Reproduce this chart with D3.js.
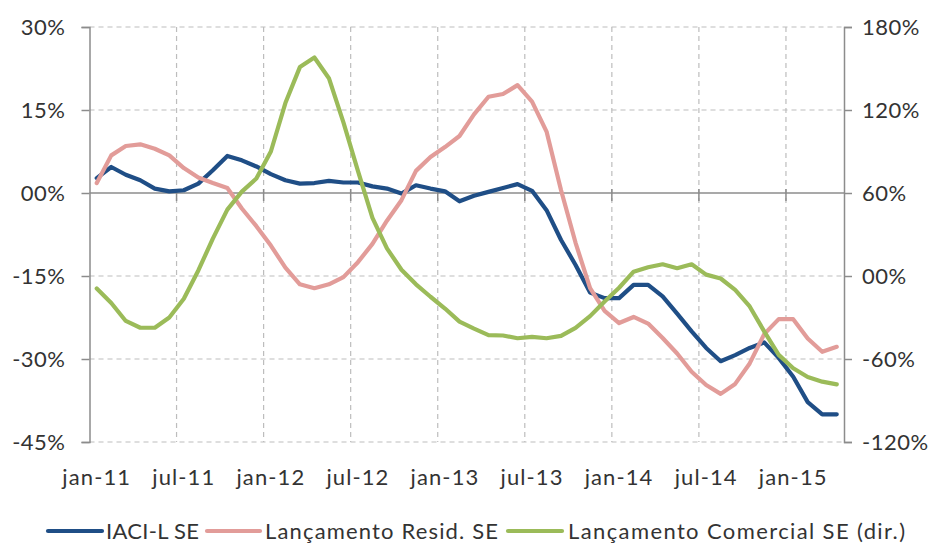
<!DOCTYPE html>
<html>
<head>
<meta charset="utf-8">
<script src="https://cdn.jsdelivr.net/npm/d3@7"></script>
<style>
  html, body { margin: 0; padding: 0; background: #fff; }
  svg { display: block; font-family: Lato, "Open Sans", sans-serif; }
</style>
</head>
<body>
<svg id="chart" width="937" height="545"></svg>
<script>
// ---- Data ----
const months = ["jan-11","fev-11","mar-11","abr-11","mai-11","jun-11","jul-11","ago-11","set-11","out-11","nov-11","dez-11",
  "jan-12","fev-12","mar-12","abr-12","mai-12","jun-12","jul-12","ago-12","set-12","out-12","nov-12","dez-12",
  "jan-13","fev-13","mar-13","abr-13","mai-13","jun-13","jul-13","ago-13","set-13","out-13","nov-13","dez-13",
  "jan-14","fev-14","mar-14","abr-14","mai-14","jun-14","jul-14","ago-14","set-14","out-14","nov-14","dez-14",
  "jan-15","fev-15","mar-15","abr-15"];

const iaciL = [2.7,4.7,3.3,2.3,0.8,0.3,0.5,1.7,4.1,6.7,5.9,4.8,
  3.4,2.3,1.7,1.8,2.2,1.9,1.9,1.2,0.8,-0.1,1.4,0.8,
  0.3,-1.5,-0.5,0.2,0.9,1.6,0.4,-3.1,-8.5,-13.0,-18.0,-19.0,
  -19.0,-16.6,-16.6,-18.7,-21.8,-25.0,-28.0,-30.4,-29.3,-28.0,-27.0,-29.8,
  -33.2,-37.8,-40.0,-40.0];

const lancResid = [1.8,6.8,8.5,8.8,8.0,6.8,4.5,2.8,1.8,0.9,-2.8,-6.0,
  -9.5,-13.5,-16.5,-17.2,-16.5,-15.2,-12.5,-9.2,-5.0,-1.3,4.0,6.5,
  8.3,10.3,14.2,17.4,17.9,19.5,16.5,11.1,0.5,-9.0,-17.2,-21.3,
  -23.5,-22.4,-23.6,-26.2,-29.0,-32.3,-34.7,-36.3,-34.5,-30.8,-25.5,-22.8,
  -22.8,-26.3,-28.7,-27.8];

const lancComercial = [-9,-19.5,-32.5,-37.4,-37.4,-30,-16.5,4,27,48,61,70.5,
  90,125,151,158,143,111,76,42,20,4.5,-6,-15,
  -23.5,-33,-38,-42.7,-43,-45,-44,-45,-43.3,-37.5,-29,-18.5,
  -8.5,3.1,6.3,8.5,5.6,8.5,1,-1.8,-10,-22,-40,-57,
  -66.7,-73,-76.4,-78.3];

const leftTicks = [30, 15, 0, -15, -30, -45];
const leftTickLabels = ["30%","15%","00%","-15%","-30%","-45%"];
const rightTicks = [180, 120, 60, 0, -60, -120];
const rightTickLabels = ["180%","120%","60%","00%","-60%","-120%"];
const xLabelIdx = [0, 6, 12, 18, 24, 30, 36, 42, 48];

const seriesNames = ["IACI-L SE", "Lançamento Resid. SE", "Lançamento Comercial SE (dir.)"];
const seriesColors = ["#1f4e86", "#e29c99", "#9bbb59"];

// ---- Layout ----
const svg = d3.select("#chart");
const L = 89.5, R = 844, T = 27, B = 442;

const x = d3.scaleLinear().domain([0, months.length]).range([L, R]);
const yL = d3.scaleLinear().domain([-45, 30]).range([B, T]);
const yR = d3.scaleLinear().domain([-120, 180]).range([B, T]);

const gridColor = "#bdbdbd";
const axisColor = "#8c8c8c";
const textColor = "#333333";

// Horizontal dashed gridlines
svg.append("g").selectAll("line").data(leftTicks.filter(v => v !== 0)).join("line")
  .attr("x1", L).attr("x2", R)
  .attr("y1", d => yL(d)).attr("y2", d => yL(d))
  .attr("stroke", gridColor).attr("stroke-width", 1.2)
  .attr("stroke-dasharray", "5,4");

// Vertical dashed gridlines every 6 months
const vGrid = d3.range(6, months.length, 6);
svg.append("g").selectAll("line").data(vGrid).join("line")
  .attr("x1", d => x(d)).attr("x2", d => x(d))
  .attr("y1", T).attr("y2", B)
  .attr("stroke", gridColor).attr("stroke-width", 1.2)
  .attr("stroke-dasharray", "5,4");

// Zero line (x axis)
svg.append("line")
  .attr("x1", L).attr("x2", R).attr("y1", yL(0)).attr("y2", yL(0))
  .attr("stroke", axisColor).attr("stroke-width", 1.5);
svg.append("g").selectAll("line").data(vGrid).join("line")
  .attr("x1", d => x(d)).attr("x2", d => x(d))
  .attr("y1", yL(0) - 4).attr("y2", yL(0) + 8)
  .attr("stroke", axisColor).attr("stroke-width", 1.5);

// Left axis
const leftAxis = d3.axisLeft(yL).tickValues(leftTicks).tickSize(8).tickPadding(16)
  .tickFormat((d, i) => leftTickLabels[i]);
const gL = svg.append("g").attr("transform", `translate(${L},0)`).call(leftAxis);
gL.select(".domain").attr("stroke", axisColor).attr("stroke-width", 1.5);
gL.selectAll(".tick line").attr("stroke", axisColor).attr("stroke-width", 1.5);
gL.selectAll(".tick text").attr("font-size", 22).attr("fill", textColor)
  .attr("font-family", "Lato, sans-serif").attr("letter-spacing", "0.5px");

// Right axis
const rightAxis = d3.axisRight(yR).tickValues(rightTicks).tickSize(8).tickPadding(10)
  .tickFormat((d, i) => rightTickLabels[i]);
const gR = svg.append("g").attr("transform", `translate(${R},0)`).call(rightAxis);
gR.select(".domain").attr("stroke", axisColor).attr("stroke-width", 1.5);
gR.selectAll(".tick line").attr("stroke", axisColor).attr("stroke-width", 1.5);
gR.selectAll(".tick text").attr("font-size", 22).attr("fill", textColor)
  .attr("font-family", "Lato, sans-serif").attr("letter-spacing", "0.5px");

// X labels
svg.append("g").selectAll("text").data(xLabelIdx).join("text")
  .attr("x", d => x(d + 0.5)).attr("y", 485)
  .attr("text-anchor", "middle")
  .attr("font-size", 22).attr("fill", textColor)
  .attr("letter-spacing", "1.1px")
  .text(d => months[d]);

// Lines
const lineL = d3.line().x((d, i) => x(i + 0.5)).y(d => yL(d));
const lineR = d3.line().x((d, i) => x(i + 0.5)).y(d => yR(d));

const seriesData = [
  {vals: iaciL, gen: lineL},
  {vals: lancResid, gen: lineL},
  {vals: lancComercial, gen: lineR}
];
seriesData.forEach((s, k) => {
  svg.append("path").datum(s.vals)
    .attr("d", s.gen)
    .attr("fill", "none")
    .attr("stroke", seriesColors[k])
    .attr("stroke-width", 4.2)
    .attr("stroke-linejoin", "round")
    .attr("stroke-linecap", "round");
});

// Legend
const legendY = 531;
const legendItems = [
  {x1: 48, x2: 102, tx: 106, w: 93},
  {x1: 207, x2: 260, tx: 265, w: 233},
  {x1: 508, x2: 562, tx: 568, w: 337}
];
const lg = svg.append("g");
legendItems.forEach((it, k) => {
  lg.append("line")
    .attr("x1", it.x1).attr("x2", it.x2).attr("y1", legendY).attr("y2", legendY)
    .attr("stroke", seriesColors[k]).attr("stroke-width", 4.2).attr("stroke-linecap", "round");
  lg.append("text")
    .attr("x", it.tx).attr("y", legendY + 8)
    .attr("font-size", 22).attr("fill", textColor)
    .attr("textLength", it.w).attr("lengthAdjust", "spacing")
    .text(seriesNames[k]);
});
</script>
</body>
</html>
